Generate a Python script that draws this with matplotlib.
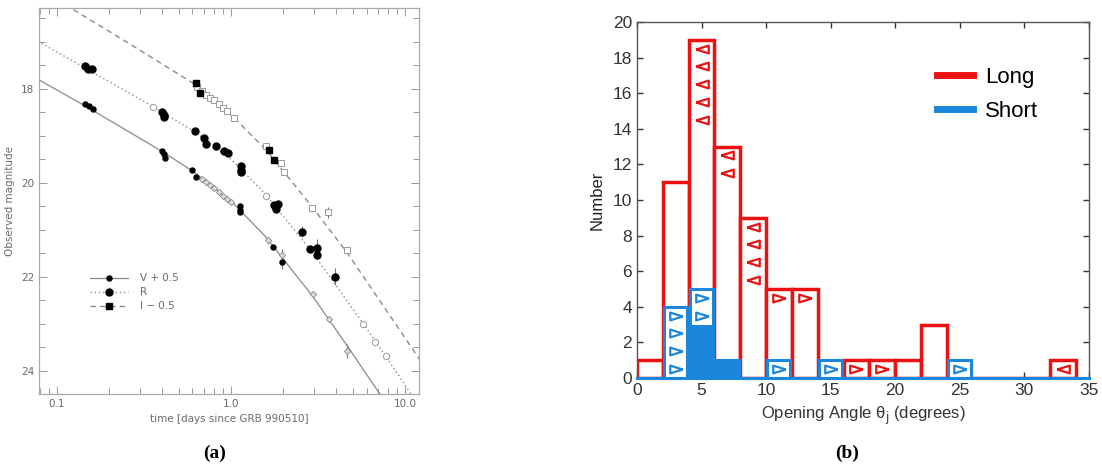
#!/usr/bin/env python3
import matplotlib
matplotlib.use("Agg")
import matplotlib.pyplot as plt
from matplotlib.lines import Line2D
from matplotlib.ticker import MultipleLocator, FixedLocator, FixedFormatter, LogLocator, NullFormatter
import numpy as np

# ---- panel (a): GRB 990510 afterglow light curves ----
# fitted curves
v_fit_t = [0.078, 0.146, 0.40, 0.60, 1.0, 1.58, 2.93, 4.66, 7.09, 8.0]
v_fit_m = [17.80, 18.37, 19.33, 19.75, 20.39, 21.15, 22.41, 23.48, 24.48, 24.75]
r_fit_t = [0.078, 0.36, 0.62, 1.0, 1.58, 2.93, 5.69, 7.74, 10.0, 11.0]
r_fit_m = [16.99, 18.39, 18.92, 19.50, 20.25, 21.48, 22.98, 23.70, 24.31, 24.56]
i_fit_t = [0.10, 0.12, 0.30, 0.61, 1.04, 1.58, 2.93, 4.66, 12.5]
i_fit_m = [16.10, 16.28, 17.18, 17.89, 18.62, 19.29, 20.52, 21.50, 23.84]

# V + 0.5
v_fill_t = [0.146, 0.152, 0.161, 0.40, 0.41, 0.416, 0.60, 0.632, 1.12, 1.12, 1.12, 1.75, 1.97]
v_fill_m = [18.32, 18.36, 18.43, 19.33, 19.40, 19.47, 19.72, 19.88, 20.50, 20.58, 20.63, 21.37, 21.69]
v_open_t = [0.68, 0.72, 0.76, 0.80, 0.85, 0.90, 0.95, 1.00, 1.62, 1.97, 2.96, 3.66, 4.66]
v_open_m = [19.92, 19.98, 20.05, 20.12, 20.20, 20.28, 20.35, 20.42, 21.23, 21.53, 22.37, 22.91, 23.59]

# R
r_fill_t = [0.145, 0.151, 0.16, 0.403, 0.41, 0.41, 0.62, 0.697, 0.72, 0.817, 0.91, 0.956,
            1.14, 1.14, 1.14, 1.77, 1.85, 1.81, 2.57, 2.85, 3.13, 3.13, 3.95]
r_fill_m = [17.51, 17.57, 17.57, 18.50, 18.55, 18.60, 18.89, 19.05, 19.18, 19.21, 19.32, 19.37,
            19.65, 19.72, 19.78, 20.47, 20.45, 20.57, 21.04, 21.41, 21.39, 21.55, 22.00]
r_open_t = [0.356, 1.58, 5.69, 6.72, 7.74]
r_open_m = [18.39, 20.28, 23.00, 23.40, 23.70]

# I - 0.5
i_fill_t = [0.627, 0.66, 1.65, 1.77]
i_fill_m = [17.88, 18.09, 19.31, 19.52]
i_open_t = [0.64, 0.68, 0.72, 0.76, 0.80, 0.85, 0.90, 0.95, 1.04, 1.58, 1.93, 2.02, 2.93, 3.6, 4.66]
i_open_m = [17.97, 18.05, 18.13, 18.19, 18.25, 18.33, 18.40, 18.47, 18.62, 19.23, 19.58, 19.78,
            20.54, 20.63, 21.44]

# points with visible error bars
err_t = [1.97, 1.97, 4.66, 2.57, 3.13, 3.95, 3.6, 1.62]
err_m = [21.69, 21.53, 23.59, 21.04, 21.39, 22.00, 20.63, 21.23]
err_dm = [0.15, 0.12, 0.15, 0.12, 0.20, 0.18, 0.12, 0.08]

# ---- panel (b): opening angle histogram ----
bin_left = [0, 2, 4, 6, 8, 10, 12, 14, 16, 18, 20, 22, 24, 26, 28, 30, 32]
long_counts = [1, 11, 19, 13, 9, 5, 5, 0, 1, 1, 1, 3, 0, 0, 0, 0, 1]
long_upper = [0, 0, 5, 2, 4, 0, 0, 0, 0, 0, 0, 0, 0, 0, 0, 0, 1]   # left triangles
long_lower = [0, 0, 0, 0, 0, 1, 1, 0, 1, 1, 0, 0, 0, 0, 0, 0, 0]   # right triangles
short_counts = [0, 4, 5, 1, 0, 1, 0, 1, 0, 0, 0, 0, 1, 0, 0, 0, 0]
short_measured = [0, 0, 3, 1, 0, 0, 0, 0, 0, 0, 0, 0, 0, 0, 0, 0, 0]
short_lower = [0, 4, 2, 0, 0, 1, 0, 1, 0, 0, 0, 0, 1, 0, 0, 0, 0]

RED = "#ee1111"
BLUE = "#1a86dc"
GREY = "#8a8a8a"
TXT = "#6a6a6a"

# narrow triangle markers like the original
TRI_LEFT = [(-1, 0), (1, 0.62), (1, -0.62), (-1, 0)]
TRI_RIGHT = [(1, 0), (-1, 0.62), (-1, -0.62), (1, 0)]

fig = plt.figure(figsize=(11.02, 4.67), dpi=100)

# ---------------- (a) ----------------
ax = fig.add_axes([0.0354, 0.1563, 0.3448, 0.8267])
ax.plot(v_fit_t, v_fit_m, color=GREY, lw=0.9, ls="-")
ax.plot(r_fit_t, r_fit_m, color=GREY, lw=1.0, ls=(0, (1, 2)))
ax.plot(i_fit_t, i_fit_m, color=GREY, lw=1.0, ls=(0, (4, 3)))

ax.errorbar(err_t, err_m, yerr=err_dm, fmt="none", ecolor="#777777", elinewidth=0.8, capsize=0)

ax.plot(v_open_t, v_open_m, ls="none", marker="D", ms=3.2, mfc="#dddddd", mec="#888888", mew=0.6)
ax.plot(r_open_t, r_open_m, ls="none", marker="o", ms=4.5, mfc="white", mec="#999999", mew=0.7)
ax.plot(i_open_t, i_open_m, ls="none", marker="s", ms=4.5, mfc="white", mec="#999999", mew=0.7)
ax.plot(v_fill_t, v_fill_m, ls="none", marker="o", ms=3.6, color="black")
ax.plot(r_fill_t, r_fill_m, ls="none", marker="o", ms=5, color="black")
ax.plot(i_fill_t, i_fill_m, ls="none", marker="s", ms=5, color="black")

ax.set_xscale("log")
ax.set_xlim(0.079, 12.0)
ax.set_ylim(24.5, 16.28)
ax.xaxis.set_major_locator(FixedLocator([0.1, 1.0, 10.0]))
ax.xaxis.set_major_formatter(FixedFormatter(["0.1", "1.0", "10.0"]))
ax.xaxis.set_minor_locator(LogLocator(base=10, subs=np.arange(2, 10)))
ax.xaxis.set_minor_formatter(NullFormatter())
ax.yaxis.set_major_locator(MultipleLocator(2))
ax.yaxis.set_minor_locator(MultipleLocator(0.5))
ax.tick_params(which="both", direction="in", top=True, right=True, colors="#999999",
               labelcolor=TXT, labelsize=7.5, width=0.7)
ax.tick_params(which="major", length=6)
ax.tick_params(which="minor", length=4)
for s in ax.spines.values():
    s.set_color("#aaaaaa")
    s.set_linewidth(0.9)
ax.set_xlabel("time [days since GRB 990510]", fontsize=7.5, color=TXT, labelpad=4)
ax.set_ylabel("Observed magnitude", fontsize=7.5, color=TXT, labelpad=4)

handles = [
    Line2D([], [], color=GREY, ls="-", lw=0.9, marker="o", ms=3.6, mfc="black", mec="black"),
    Line2D([], [], color=GREY, ls=(0, (1, 2)), lw=1.0, marker="o", ms=5, mfc="black", mec="black"),
    Line2D([], [], color=GREY, ls=(0, (4, 3)), lw=1.0, marker="s", ms=5, mfc="black", mec="black"),
]
leg = ax.legend(handles, ["V + 0.5", "R", "I \u2212 0.5"], loc="upper left",
                bbox_to_anchor=(0.11, 0.337), frameon=False, fontsize=7.5,
                handlelength=3.6, labelspacing=0.38, handletextpad=1.2)
for t in leg.get_texts():
    t.set_color(TXT)

fig.text(0.195, 0.03, "(a)", ha="center", va="center", fontsize=14, fontweight="bold",
         family="Liberation Serif")

# ---------------- (b) ----------------
bx = fig.add_axes([0.578, 0.1906, 0.41, 0.7624])
sans = ["Liberation Sans", "DejaVu Sans"]
width = 2.0
centers = [b + width / 2 for b in bin_left]

bx.bar(centers, long_counts, width=width, color="white", edgecolor=RED, linewidth=2.5, zorder=2)

inset = 0.22
bx.bar(centers, short_counts, width=width - inset, color="white", edgecolor=BLUE, linewidth=2.2, zorder=3)
bx.bar(centers, short_measured, width=width - inset * 0.4, color=BLUE, edgecolor=BLUE, linewidth=0, zorder=4)

for c, n, k in zip(centers, long_counts, long_upper):
    for j in range(k):
        bx.plot(c, n - j - 0.5, marker=TRI_LEFT, ms=9, mfc="white", mec=RED, mew=1.6, zorder=5)
for c, n, k in zip(centers, long_counts, long_lower):
    for j in range(k):
        bx.plot(c, n - j - 0.5, marker=TRI_RIGHT, ms=9, mfc="white", mec=RED, mew=1.6, zorder=5)
for c, n, k in zip(centers, short_counts, short_lower):
    for j in range(k):
        bx.plot(c, n - j - 0.5, marker=TRI_RIGHT, ms=9, mfc="white", mec=BLUE, mew=1.6, zorder=5)

bx.axhline(0, color=BLUE, lw=2.2, zorder=6, clip_on=False)

bx.set_xlim(0, 35)
bx.set_ylim(0, 20)
bx.xaxis.set_major_locator(MultipleLocator(5))
bx.yaxis.set_major_locator(MultipleLocator(2))
bx.tick_params(direction="in", top=True, right=True, length=4, width=1.0,
               labelsize=12.5, colors="#333333")
for lab in bx.get_xticklabels() + bx.get_yticklabels():
    lab.set_family(sans)
for s in bx.spines.values():
    s.set_color("#555555")
    s.set_linewidth(1.0)
bx.set_xlabel("Opening Angle \u03b8$_{\\rm j}$ (degrees)", fontsize=12, family=sans,
              color="#333333", labelpad=5)
bx.set_ylabel("Number", fontsize=12, family=sans, color="#222222", labelpad=6)

lh = [Line2D([], [], color=RED, lw=5), Line2D([], [], color=BLUE, lw=5)]
bleg = bx.legend(lh, ["Long", "Short"], loc="upper left", bbox_to_anchor=(0.62, 0.93),
                 frameon=False, prop={"family": sans, "size": 16}, handlelength=1.6,
                 labelspacing=0.6, handletextpad=0.55)

fig.text(0.769, 0.03, "(b)", ha="center", va="center", fontsize=14, fontweight="bold",
         family="Liberation Serif")

plt.savefig("out.png", dpi=100, facecolor="white")
